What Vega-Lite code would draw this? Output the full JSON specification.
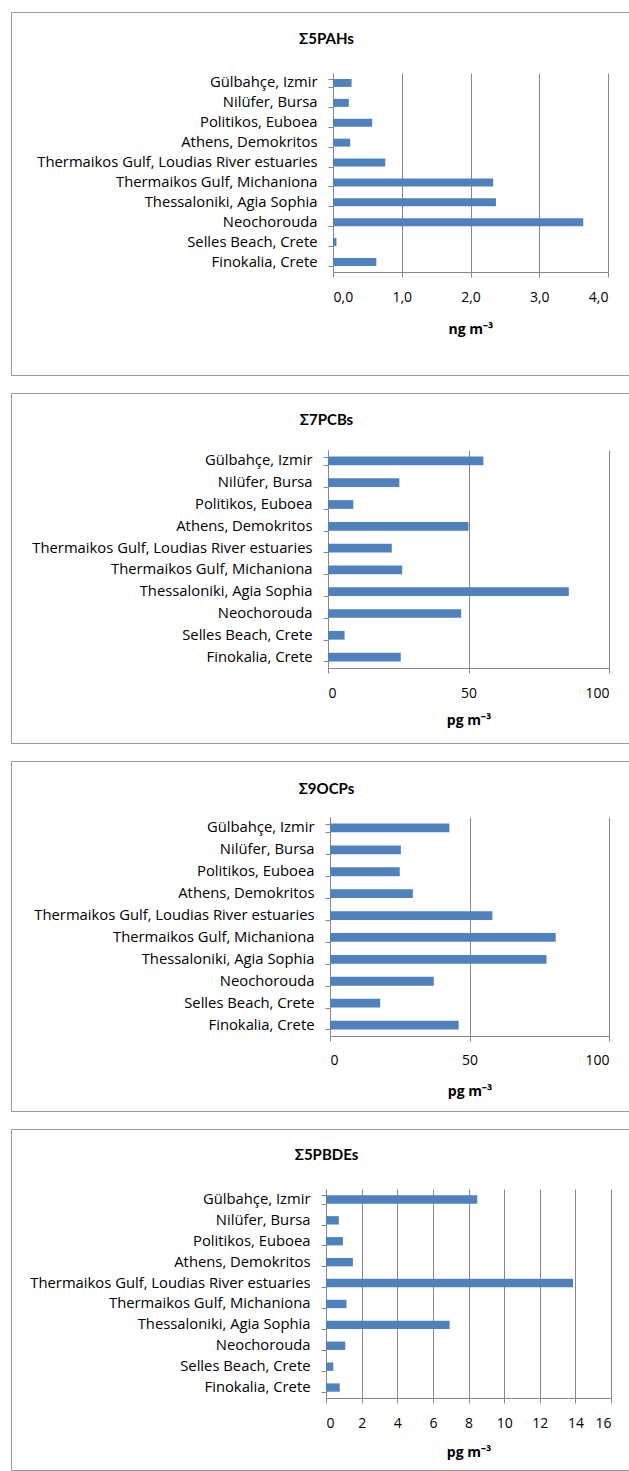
{
  "$schema": "https://vega.github.io/schema/vega-lite/v6.json",
  "padding": {"left": 10, "top": 3, "right": 0, "bottom": 0},
  "background": "white",
  "spacing": 8,
  "datasets": {
    "d": [
      {"site": "Gülbahçe, Izmir", "group": "PAH", "value": 0.27},
      {"site": "Nilüfer, Bursa", "group": "PAH", "value": 0.23},
      {"site": "Politikos, Euboea", "group": "PAH", "value": 0.57},
      {"site": "Athens, Demokritos", "group": "PAH", "value": 0.25},
      {"site": "Thermaikos Gulf, Loudias River estuaries", "group": "PAH", "value": 0.76},
      {"site": "Thermaikos Gulf, Michaniona", "group": "PAH", "value": 2.33},
      {"site": "Thessaloniki, Agia Sophia", "group": "PAH", "value": 2.37},
      {"site": "Neochorouda", "group": "PAH", "value": 3.64},
      {"site": "Selles Beach, Crete", "group": "PAH", "value": 0.05},
      {"site": "Finokalia, Crete", "group": "PAH", "value": 0.63},
      {"site": "Gülbahçe, Izmir", "group": "PCB", "value": 55.3},
      {"site": "Nilüfer, Bursa", "group": "PCB", "value": 25.4},
      {"site": "Politikos, Euboea", "group": "PCB", "value": 9.0},
      {"site": "Athens, Demokritos", "group": "PCB", "value": 50.0},
      {"site": "Thermaikos Gulf, Loudias River estuaries", "group": "PCB", "value": 22.7},
      {"site": "Thermaikos Gulf, Michaniona", "group": "PCB", "value": 26.4},
      {"site": "Thessaloniki, Agia Sophia", "group": "PCB", "value": 85.7},
      {"site": "Neochorouda", "group": "PCB", "value": 47.4},
      {"site": "Selles Beach, Crete", "group": "PCB", "value": 5.9},
      {"site": "Finokalia, Crete", "group": "PCB", "value": 25.9},
      {"site": "Gülbahçe, Izmir", "group": "OCP", "value": 42.8},
      {"site": "Nilüfer, Bursa", "group": "OCP", "value": 25.4},
      {"site": "Politikos, Euboea", "group": "OCP", "value": 25.0},
      {"site": "Athens, Demokritos", "group": "OCP", "value": 29.7},
      {"site": "Thermaikos Gulf, Loudias River estuaries", "group": "OCP", "value": 58.2},
      {"site": "Thermaikos Gulf, Michaniona", "group": "OCP", "value": 80.9},
      {"site": "Thessaloniki, Agia Sophia", "group": "OCP", "value": 77.6},
      {"site": "Neochorouda", "group": "OCP", "value": 37.2},
      {"site": "Selles Beach, Crete", "group": "OCP", "value": 18.0},
      {"site": "Finokalia, Crete", "group": "OCP", "value": 46.1},
      {"site": "Gülbahçe, Izmir", "group": "PBDE", "value": 8.49},
      {"site": "Nilüfer, Bursa", "group": "PBDE", "value": 0.72},
      {"site": "Politikos, Euboea", "group": "PBDE", "value": 0.95},
      {"site": "Athens, Demokritos", "group": "PBDE", "value": 1.51},
      {"site": "Thermaikos Gulf, Loudias River estuaries", "group": "PBDE", "value": 13.87},
      {"site": "Thermaikos Gulf, Michaniona", "group": "PBDE", "value": 1.15},
      {"site": "Thessaloniki, Agia Sophia", "group": "PBDE", "value": 6.94},
      {"site": "Neochorouda", "group": "PBDE", "value": 1.08},
      {"site": "Selles Beach, Crete", "group": "PBDE", "value": 0.41},
      {"site": "Finokalia, Crete", "group": "PBDE", "value": 0.77}
    ]
  },
  "config": {
    "view": {"stroke": "#9a9a9a", "strokeWidth": 1},
    "font": "Open Sans",
    "axis": {
      "domainColor": "#878787",
      "tickColor": "#878787",
      "gridColor": "#878787",
      "gridOpacity": 1,
      "labelColor": "#000000",
      "labelFont": "Open Sans",
      "labelFontSize": 14,
      "titleFont": "Open Sans",
      "titleFontSize": 14,
      "titleFontWeight": "bold",
      "titleColor": "#000000",
      "tickSize": 5,
      "labelLimit": 0
    },
    "axisY": {"grid": false, "tickBand": "extent", "labelPadding": 11, "labelFontSize": 14.8},
    "axisX": {"grid": false, "labelPadding": 13.5, "labelBaseline": "top"},
    "title": {"font": "Lato", "fontSize": 15, "fontWeight": "bold", "color": "#000000", "anchor": "middle", "frame": "group"}
  },
  "vconcat": [
    {
      "width": 619,
      "height": 363,
      "title": {"text": "Σ5PAHs", "offset": -43, "dx": 6},
      "data": {"name": "d"},
      "transform": [{"filter": "datum.group === 'PAH'"}],
      "encoding": {
        "y": {
          "field": "site", "type": "nominal", "sort": null, "title": null,
          "scale": {"range": [61, 260], "paddingInner": 0.6, "paddingOuter": 0.3},
          "axis": {"offset": -322}
        }
      },
      "layer": [
        {
          "mark": {"type": "bar", "opacity": 0},
          "encoding": {
            "x": {"field": "value", "type": "quantitative", "title": null,
              "scale": {"domain": [0, 4], "range": [322, 597], "nice": false},
              "axis": {"orient": "top", "grid": true, "labels": false, "ticks": false, "domain": false, "values": [0, 1, 2, 3, 4]}}
          }
        },
        {
          "mark": {"type": "bar", "color": "#4F81BD"},
          "encoding": {
            "x": {"field": "value", "type": "quantitative", "title": "ng m⁻³",
              "axis": {"orient": "bottom", "offset": -103, "values": [0, 1, 2, 3, 4], "labelExpr": "replace(format(datum.value, '.1f'), '.', ',')", "titlePadding": 18}}
          }
        }
      ],
      "resolve": {"axis": {"x": "independent"}}
    },
    {
      "width": 619,
      "height": 350,
      "title": {"text": "Σ7PCBs", "offset": -43, "dx": 6},
      "data": {"name": "d"},
      "transform": [{"filter": "datum.group === 'PCB'"}],
      "encoding": {
        "y": {
          "field": "site", "type": "nominal", "sort": null, "title": null,
          "scale": {"range": [57, 275], "paddingInner": 0.6, "paddingOuter": 0.3},
          "axis": {"offset": -317}
        }
      },
      "layer": [
        {
          "mark": {"type": "bar", "opacity": 0},
          "encoding": {
            "x": {"field": "value", "type": "quantitative", "title": null,
              "scale": {"domain": [0, 100], "range": [317, 598], "nice": false},
              "axis": {"orient": "top", "grid": true, "labels": false, "ticks": false, "domain": false, "values": [0, 50, 100]}}
          }
        },
        {
          "mark": {"type": "bar", "color": "#4F81BD"},
          "encoding": {
            "x": {"field": "value", "type": "quantitative", "title": "pg m⁻³",
              "axis": {"orient": "bottom", "offset": -75, "values": [0, 50, 100], "titlePadding": 13}}
          }
        }
      ],
      "resolve": {"axis": {"x": "independent"}}
    },
    {
      "width": 619,
      "height": 350,
      "title": {"text": "Σ9OCPs", "offset": -44, "dx": 6},
      "data": {"name": "d"},
      "transform": [{"filter": "datum.group === 'OCP'"}],
      "encoding": {
        "y": {
          "field": "site", "type": "nominal", "sort": null, "title": null,
          "scale": {"range": [56, 275], "paddingInner": 0.6, "paddingOuter": 0.3},
          "axis": {"offset": -319}
        }
      },
      "layer": [
        {
          "mark": {"type": "bar", "opacity": 0},
          "encoding": {
            "x": {"field": "value", "type": "quantitative", "title": null,
              "scale": {"domain": [0, 100], "range": [319, 598], "nice": false},
              "axis": {"orient": "top", "grid": true, "labels": false, "ticks": false, "domain": false, "values": [0, 50, 100]}}
          }
        },
        {
          "mark": {"type": "bar", "color": "#4F81BD"},
          "encoding": {
            "x": {"field": "value", "type": "quantitative", "title": "pg m⁻³",
              "axis": {"orient": "bottom", "offset": -75, "values": [0, 50, 100], "labelPadding": 12.5, "titlePadding": 17}}
          }
        }
      ],
      "resolve": {"axis": {"x": "independent"}}
    },
    {
      "width": 619,
      "height": 341,
      "title": {"text": "Σ5PBDEs", "offset": -42, "dx": 6},
      "data": {"name": "d"},
      "transform": [{"filter": "datum.group === 'PBDE'"}],
      "encoding": {
        "y": {
          "field": "site", "type": "nominal", "sort": null, "title": null,
          "scale": {"range": [60, 269], "paddingInner": 0.6, "paddingOuter": 0.3},
          "axis": {"offset": -315}
        }
      },
      "layer": [
        {
          "mark": {"type": "bar", "opacity": 0},
          "encoding": {
            "x": {"field": "value", "type": "quantitative", "title": null,
              "scale": {"domain": [0, 16], "range": [315, 600], "nice": false},
              "axis": {"orient": "top", "grid": true, "labels": false, "ticks": false, "domain": false, "values": [0, 2, 4, 6, 8, 10, 12, 14, 16]}}
          }
        },
        {
          "mark": {"type": "bar", "color": "#4F81BD"},
          "encoding": {
            "x": {"field": "value", "type": "quantitative", "title": "pg m⁻³",
              "axis": {"orient": "bottom", "offset": -72, "values": [0, 2, 4, 6, 8, 10, 12, 14, 16], "titlePadding": 15}}
          }
        }
      ],
      "resolve": {"axis": {"x": "independent"}}
    }
  ]
}
